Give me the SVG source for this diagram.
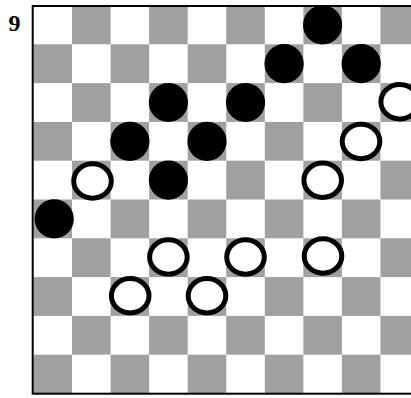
<svg xmlns="http://www.w3.org/2000/svg" width="411" height="398" viewBox="0 0 411 398">
<style>
.g{fill:#a0a0a0}
.b{fill:#000}
.w{fill:#fff;stroke:#000;stroke-width:5}
.lbl{font-family:"Liberation Serif","Times New Roman",serif;font-weight:bold;font-size:24px;fill:#000}
</style>
<rect width="411" height="398" fill="#fff"/>
<text class="lbl" x="8.5" y="30.5">9</text>
<g id="board">
<rect x="33" y="6" width="387" height="388" fill="#fff"/>
<!-- r0 -->
<rect class="g" x="72.05" y="5.5" width="38.55" height="38.8"/>
<rect class="g" x="149.15" y="5.5" width="38.55" height="38.8"/>
<rect class="g" x="226.25" y="5.5" width="38.55" height="38.8"/>
<rect class="g" x="303.35" y="5.5" width="38.55" height="38.8"/>
<rect class="g" x="380.45" y="5.5" width="38.55" height="38.8"/>
<!-- r1 -->
<rect class="g" x="33.5" y="44.3" width="38.55" height="38.8"/>
<rect class="g" x="110.6" y="44.3" width="38.55" height="38.8"/>
<rect class="g" x="187.7" y="44.3" width="38.55" height="38.8"/>
<rect class="g" x="264.8" y="44.3" width="38.55" height="38.8"/>
<rect class="g" x="341.9" y="44.3" width="38.55" height="38.8"/>
<!-- r2 -->
<rect class="g" x="72.05" y="83.1" width="38.55" height="38.8"/>
<rect class="g" x="149.15" y="83.1" width="38.55" height="38.8"/>
<rect class="g" x="226.25" y="83.1" width="38.55" height="38.8"/>
<rect class="g" x="303.35" y="83.1" width="38.55" height="38.8"/>
<rect class="g" x="380.45" y="83.1" width="38.55" height="38.8"/>
<!-- r3 -->
<rect class="g" x="33.5" y="121.9" width="38.55" height="38.8"/>
<rect class="g" x="110.6" y="121.9" width="38.55" height="38.8"/>
<rect class="g" x="187.7" y="121.9" width="38.55" height="38.8"/>
<rect class="g" x="264.8" y="121.9" width="38.55" height="38.8"/>
<rect class="g" x="341.9" y="121.9" width="38.55" height="38.8"/>
<!-- r4 -->
<rect class="g" x="72.05" y="160.7" width="38.55" height="38.8"/>
<rect class="g" x="149.15" y="160.7" width="38.55" height="38.8"/>
<rect class="g" x="226.25" y="160.7" width="38.55" height="38.8"/>
<rect class="g" x="303.35" y="160.7" width="38.55" height="38.8"/>
<rect class="g" x="380.45" y="160.7" width="38.55" height="38.8"/>
<!-- r5 -->
<rect class="g" x="33.5" y="199.5" width="38.55" height="38.8"/>
<rect class="g" x="110.6" y="199.5" width="38.55" height="38.8"/>
<rect class="g" x="187.7" y="199.5" width="38.55" height="38.8"/>
<rect class="g" x="264.8" y="199.5" width="38.55" height="38.8"/>
<rect class="g" x="341.9" y="199.5" width="38.55" height="38.8"/>
<!-- r6 -->
<rect class="g" x="72.05" y="238.3" width="38.55" height="38.8"/>
<rect class="g" x="149.15" y="238.3" width="38.55" height="38.8"/>
<rect class="g" x="226.25" y="238.3" width="38.55" height="38.8"/>
<rect class="g" x="303.35" y="238.3" width="38.55" height="38.8"/>
<rect class="g" x="380.45" y="238.3" width="38.55" height="38.8"/>
<!-- r7 -->
<rect class="g" x="33.5" y="277.1" width="38.55" height="38.8"/>
<rect class="g" x="110.6" y="277.1" width="38.55" height="38.8"/>
<rect class="g" x="187.7" y="277.1" width="38.55" height="38.8"/>
<rect class="g" x="264.8" y="277.1" width="38.55" height="38.8"/>
<rect class="g" x="341.9" y="277.1" width="38.55" height="38.8"/>
<!-- r8 -->
<rect class="g" x="72.05" y="315.9" width="38.55" height="38.8"/>
<rect class="g" x="149.15" y="315.9" width="38.55" height="38.8"/>
<rect class="g" x="226.25" y="315.9" width="38.55" height="38.8"/>
<rect class="g" x="303.35" y="315.9" width="38.55" height="38.8"/>
<rect class="g" x="380.45" y="315.9" width="38.55" height="38.8"/>
<!-- r9 -->
<rect class="g" x="33.5" y="354.7" width="38.55" height="38.8"/>
<rect class="g" x="110.6" y="354.7" width="38.55" height="38.8"/>
<rect class="g" x="187.7" y="354.7" width="38.55" height="38.8"/>
<rect class="g" x="264.8" y="354.7" width="38.55" height="38.8"/>
<rect class="g" x="341.9" y="354.7" width="38.55" height="38.8"/>
<rect x="32.7" y="6" width="387" height="387.7" fill="none" stroke="#000" stroke-width="2"/>
</g>
<g id="black-pieces">
<g id="b1"><circle class="b" cx="322.6" cy="24.9" r="19.6"/></g>
<g id="b2"><circle class="b" cx="284.1" cy="63.7" r="19.6"/></g>
<g id="b3"><circle class="b" cx="361.2" cy="63.7" r="19.6"/></g>
<g id="b4"><circle class="b" cx="168.4" cy="102.5" r="19.6"/></g>
<g id="b5"><circle class="b" cx="245.5" cy="102.5" r="19.6"/></g>
<g id="b6"><circle class="b" cx="129.9" cy="141.3" r="19.6"/></g>
<g id="b7"><circle class="b" cx="207" cy="141.3" r="19.6"/></g>
<g id="b8"><circle class="b" cx="168.4" cy="180.1" r="19.6"/></g>
<g id="b9"><circle class="b" cx="54.2" cy="218.9" r="19.6"/></g>
</g>
<g id="white-pieces">
<g id="w1"><ellipse class="w" cx="399.7" cy="101.8" rx="18.8" ry="17.2"/></g>
<g id="w2"><ellipse class="w" cx="361" cy="141.5" rx="18.8" ry="17.2"/></g>
<g id="w3"><ellipse class="w" cx="92.5" cy="181" rx="18.8" ry="17.2"/></g>
<g id="w4"><ellipse class="w" cx="322.7" cy="180.3" rx="18.8" ry="17.2"/></g>
<g id="w5"><ellipse class="w" cx="168.4" cy="257" rx="18.8" ry="17.2"/></g>
<g id="w6"><ellipse class="w" cx="245.5" cy="257" rx="18.8" ry="17.2"/></g>
<g id="w7"><ellipse class="w" cx="323" cy="256" rx="18.8" ry="17.2"/></g>
<g id="w8"><ellipse class="w" cx="130.2" cy="295.8" rx="18.8" ry="17.2"/></g>
<g id="w9"><ellipse class="w" cx="207" cy="295.8" rx="18.8" ry="17.2"/></g>
</g>
</svg>
